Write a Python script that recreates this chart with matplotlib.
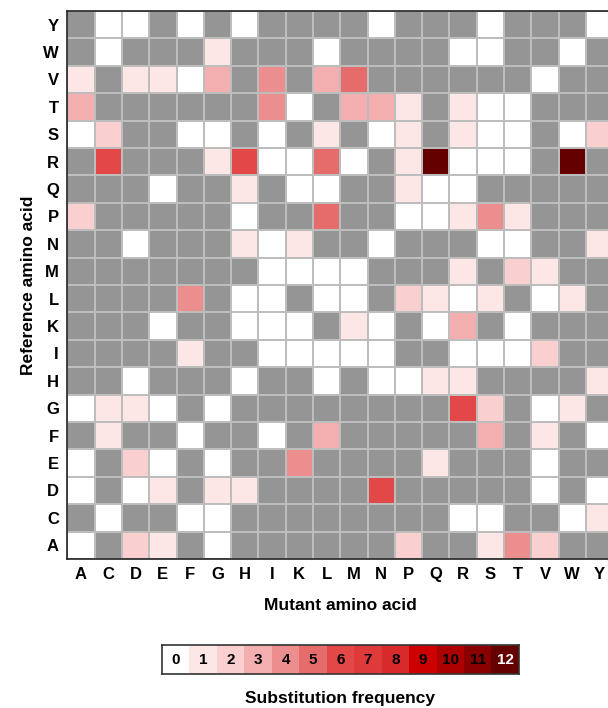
import numpy as np
import matplotlib.pyplot as plt
from matplotlib.colors import ListedColormap, BoundaryNorm

plt.rcParams['font.family'] = ['Liberation Sans', 'DejaVu Sans']
plt.rcParams['font.weight'] = 'bold'

# mutant (x) and reference (y, top to bottom) amino acids
mutant_aa = ['A', 'C', 'D', 'E', 'F', 'G', 'H', 'I', 'K', 'L',
             'M', 'N', 'P', 'Q', 'R', 'S', 'T', 'V', 'W', 'Y']
reference_aa = ['Y', 'W', 'V', 'T', 'S', 'R', 'Q', 'P', 'N', 'M',
                'L', 'K', 'I', 'H', 'G', 'F', 'E', 'D', 'C', 'A']

g = None  # substitution not possible -> gray

#        A  C  D  E  F  G  H  I  K  L  M  N  P  Q   R  S  T  V  W   Y
row_Y = [g, 0, 0, g, 0, g, 0, g, g, g, g, 0, g, g,  g, 0, g, g, g,  0]
row_W = [g, 0, g, g, g, 1, g, g, g, 0, g, g, g, g,  0, 0, g, g, 0,  g]
row_V = [1, g, 1, 1, 0, 3, g, 4, g, 3, 5, g, g, g,  g, g, g, 0, g,  g]
row_T = [3, g, g, g, g, g, g, 4, 0, g, 3, 3, 1, g,  1, 0, 0, g, g,  g]
row_S = [0, 2, g, g, 0, 0, g, 0, g, 1, g, 0, 1, g,  1, 0, 0, g, 0,  2]
row_R = [g, 6, g, g, g, 1, 6, 0, 0, 5, 0, g, 1, 12, 0, 0, 0, g, 12, g]
row_Q = [g, g, g, 0, g, g, 1, g, 0, 0, g, g, 1, 0,  0, g, g, g, g,  g]
row_P = [2, g, g, g, g, g, 0, g, g, 5, g, g, 0, 0,  1, 4, 1, g, g,  g]
row_N = [g, g, 0, g, g, g, 1, 0, 1, g, g, 0, g, g,  g, 0, 0, g, g,  1]
row_M = [g, g, g, g, g, g, g, 0, 0, 0, 0, g, g, g,  1, g, 2, 1, g,  g]
row_L = [g, g, g, g, 4, g, 0, 0, g, 0, 0, g, 2, 1,  0, 1, g, 0, 1,  g]
row_K = [g, g, g, 0, g, g, 0, 0, 0, g, 1, 0, g, 0,  3, g, 0, g, g,  g]
row_I = [g, g, g, g, 1, g, g, 0, 0, 0, 0, 0, g, g,  0, 0, 0, 2, g,  g]
row_H = [g, g, 0, g, g, g, 0, g, g, 0, g, 0, 0, 1,  1, g, g, g, g,  1]
row_G = [0, 1, 1, 0, g, 0, g, g, g, g, g, g, g, g,  6, 2, g, 0, 1,  g]
row_F = [g, 1, g, g, 0, g, g, 0, g, 3, g, g, g, g,  g, 3, g, 1, g,  0]
row_E = [0, g, 2, 0, g, 0, g, g, 4, g, g, g, g, 1,  g, g, g, 0, g,  g]
row_D = [0, g, 0, 1, g, 1, 1, g, g, g, g, 6, g, g,  g, g, g, 0, g,  0]
row_C = [g, 0, g, g, 0, 0, g, g, g, g, g, g, g, g,  0, 0, g, g, 0,  1]
row_A = [0, g, 2, 1, g, 0, g, g, g, g, g, g, 2, g,  g, 1, 4, 2, g,  g]

levels = list(range(13))
level_colors = ['#ffffff', '#fde6e6', '#f9cfcf', '#f3afaf', '#ec8e8e', '#e66b6b',
                '#e24848', '#df3a3a', '#d82a2a', '#cc0000', '#ad0000', '#8a0000',
                '#640000']

rows = [row_Y, row_W, row_V, row_T, row_S, row_R, row_Q, row_P, row_N, row_M,
        row_L, row_K, row_I, row_H, row_G, row_F, row_E, row_D, row_C, row_A]
mat = np.array([[np.nan if v is None else v for v in r] for r in rows], dtype=float)
mat = np.ma.masked_invalid(mat)

cmap = ListedColormap(level_colors)
cmap.set_bad('#959595')
norm = BoundaryNorm(np.arange(-0.5, 13.5, 1), cmap.N)

fig = plt.figure(figsize=(6.08, 7.08), dpi=100)
ax = fig.add_axes([0.1107, 0.2105, 0.898, 0.774])

ax.pcolormesh(mat, cmap=cmap, norm=norm, edgecolors='#bdbdbd', linewidth=0.3)
ax.set_xlim(0, len(mutant_aa))
ax.set_ylim(len(reference_aa), 0)

ax.set_xticks(np.arange(len(mutant_aa)) + 0.5)
ax.set_xticklabels(mutant_aa, fontsize=12, fontweight='bold')
ax.set_yticks(np.arange(len(reference_aa)) + 0.5)
ax.set_yticklabels(reference_aa, fontsize=12, fontweight='bold')
ax.tick_params(length=0, pad=6)
for s in ax.spines.values():
    s.set_linewidth(1.2)
    s.set_color('#222222')

ax.set_xlabel('Mutant amino acid', fontsize=12.5, fontweight='bold', labelpad=11)
ax.set_ylabel('Reference amino acid', fontsize=12.5, fontweight='bold', labelpad=5)

# discrete colour key
cax = fig.add_axes([0.2664, 0.048, 0.587, 0.041])
cax.pcolormesh(np.array([levels]), cmap=cmap, norm=norm)
for i, lv in enumerate(levels):
    cax.text(i + 0.5, 0.5, str(lv), ha='center', va='center', fontsize=11,
             fontweight='bold', color='white' if lv == 12 else 'black')
cax.set_xlim(0, len(levels))
cax.set_ylim(0, 1)
cax.set_xticks([])
cax.set_yticks([])
for s in cax.spines.values():
    s.set_linewidth(1.2)
    s.set_color('#333333')

fig.text(0.559, 0.014, 'Substitution frequency', ha='center', va='center',
         fontsize=12.5, fontweight='bold')

fig.savefig('out.png', dpi=100)
